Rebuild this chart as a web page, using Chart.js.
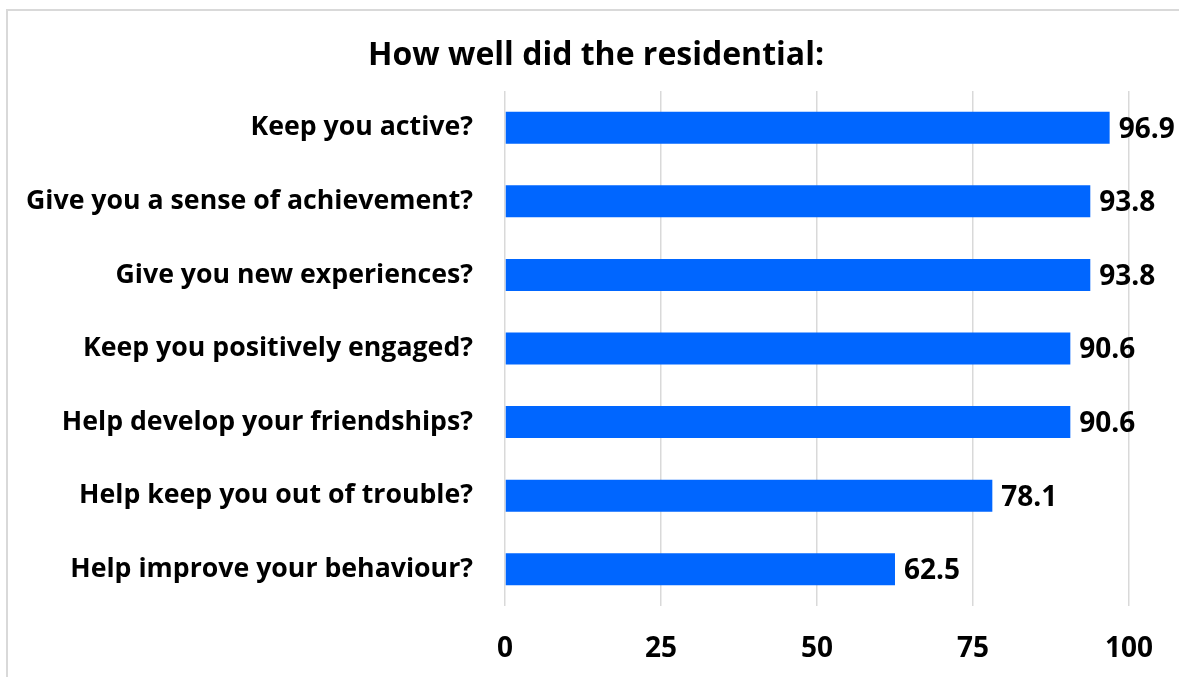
<!DOCTYPE html>
<html>
<head>
<meta charset="utf-8">
<script src="https://cdn.jsdelivr.net/npm/chart.js@4.4.1/dist/chart.umd.min.js"></script>
<style>
  html, body { margin: 0; padding: 0; background: #fff; overflow: hidden; }
  #wrap { position: relative; width: 1179px; height: 677px; }
</style>
</head>
<body>
<div id="wrap"><canvas id="c" width="1179" height="677"></canvas></div>
<script>
// Survey questions and percentage of positive answers
const questions = [
  'Keep you active?',
  'Give you a sense of achievement?',
  'Give you new experiences?',
  'Keep you positively engaged?',
  'Help develop your friendships?',
  'Help keep you out of trouble?',
  'Help improve your behaviour?'
];
const percentages = [96.9, 93.8, 93.8, 90.6, 90.6, 78.1, 62.5];
const axisTicks = [0, 25, 50, 75, 100];
const chartTitle = 'How well did the residential:';

const FONT = '"Open Sans", "Noto Sans", sans-serif';
const BAR_BLUE = '#0066ff';
const GRID_GREY = '#d9d9d9';

// Light frame around the whole chart, plus the heading
const framePlugin = {
  id: 'frame',
  beforeDraw(chart) {
    const ctx = chart.ctx;
    ctx.save();
    ctx.strokeStyle = GRID_GREY;
    ctx.lineWidth = 2;
    ctx.strokeRect(7, 10, chart.width + 20, chart.height + 20);
    ctx.font = 'bold 32px ' + FONT;
    ctx.fillStyle = '#000';
    ctx.textAlign = 'center';
    ctx.textBaseline = 'middle';
    ctx.fillText(chartTitle, 596, 56);
    ctx.restore();
  }
};

// Value printed just past the end of each bar
const valueLabels = {
  id: 'valueLabels',
  afterDatasetsDraw(chart) {
    const ctx = chart.ctx;
    const meta = chart.getDatasetMeta(0);
    ctx.save();
    ctx.font = 'bold 28px ' + FONT;
    ctx.fillStyle = '#000';
    ctx.textAlign = 'left';
    ctx.textBaseline = 'middle';
    meta.data.forEach((bar, i) => {
      ctx.fillText(percentages[i].toFixed(1), bar.x + 9, bar.y + 2);
    });
    ctx.restore();
  }
};

new Chart(document.getElementById('c'), {
  type: 'bar',
  data: {
    labels: questions,
    datasets: [{
      data: percentages,
      backgroundColor: BAR_BLUE,
      borderWidth: 0,
      barPercentage: 0.435,
      categoryPercentage: 1.0
    }]
  },
  options: {
    indexAxis: 'y',
    responsive: false,
    animation: false,
    layout: { padding: { left: 13, right: 45, top: 91, bottom: 0 } },
    plugins: {
      legend: { display: false },
      tooltip: { enabled: false },
      title: { display: false }
    },
    scales: {
      x: {
        min: 0,
        max: 100,
        afterBuildTicks(scale) { scale.ticks = axisTicks.map(v => ({ value: v })); },
        afterFit(scale) { scale.height = 71; },
        border: { display: false },
        grid: { color: GRID_GREY, lineWidth: 1.5, drawTicks: false },
        ticks: {
          color: '#000',
          padding: 26,
          font: { family: FONT, size: 28, weight: 'bold' }
        }
      },
      y: {
        afterFit(scale) { scale.width = 492; },
        border: { display: false },
        grid: { display: false, drawTicks: false },
        ticks: {
          color: '#000',
          padding: 32,
          autoSkip: false,
          font: { family: FONT, size: 26.7, weight: 'bold' }
        }
      }
    }
  },
  plugins: [framePlugin, valueLabels]
});
</script>
</body>
</html>
